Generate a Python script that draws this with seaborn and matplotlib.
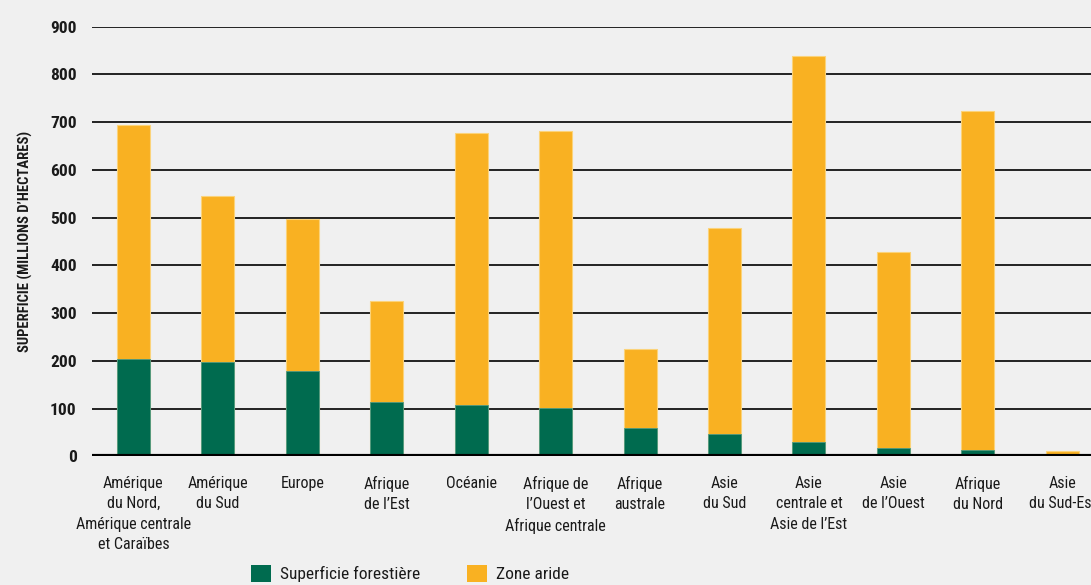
import numpy as np
import pandas as pd
import matplotlib
matplotlib.use("Agg")
import matplotlib.pyplot as plt
from matplotlib.patches import Patch
import seaborn as sns

regions = ["Amérique\ndu Nord,\nAmérique centrale\net Caraïbes", "Amérique\ndu Sud", "Europe",
           "Afrique\nde l’Est", "Océanie", "Afrique de\nl’Ouest et\nAfrique centrale",
           "Afrique\naustrale", "Asie\ndu Sud", "Asie\ncentrale et\nAsie de l’Est",
           "Asie\nde l’Ouest", "Afrique\ndu Nord", "Asie\ndu Sud-Est"]
zone_aride = [693, 546, 497, 326, 678, 681, 224, 478, 838, 427, 723, 11]
foret = [204, 198, 179, 114, 108, 101, 60, 47, 31, 18, 14, 6]
yticks = [0, 100, 200, 300, 400, 500, 600, 700, 800, 900]

GREEN = "#006b4f"
ORANGE = "#f9b122"
BG = "#f0f0f0"
INK = "#1a1a1a"

df = pd.DataFrame({"region": regions, "aride": zone_aride, "foret": foret})

sns.set_theme(style="white")
plt.rcParams["font.family"] = ["Liberation Sans Narrow", "DejaVu Sans Condensed", "Roboto Condensed",
                               "Open Sans Condensed", "Noto Sans Condensed", "DejaVu Sans"]
plt.rcParams["font.stretch"] = "condensed"
plt.rcParams["text.color"] = INK

fig = plt.figure(figsize=(10.91, 5.85), dpi=100, facecolor=BG)
ax = fig.add_axes([0.0843, 0.2197, 1 - 0.0843, 0.735])
ax.set_facecolor(BG)

# grid lines under the bars
for v in yticks[1:]:
    ax.axhline(v, color="#222222", lw=1.4, zorder=0)

sns.barplot(data=df, x="region", y="aride", color=ORANGE, width=0.39, saturation=1,
            edgecolor="#fbd37a", linewidth=0.8, ax=ax, zorder=2)
sns.barplot(data=df, x="region", y="foret", color=GREEN, width=0.39, saturation=1,
            edgecolor="#4f9a82", linewidth=0.6, ax=ax, zorder=3)

ax.axhline(0, color="black", lw=3, zorder=4)
ax.set_ylim(0, 900)
ax.set_xlim(-0.49, 11.34)
ax.set_yticks(yticks)
ax.set_yticklabels([str(v) for v in yticks], fontsize=12.5, fontweight="bold", color=INK)
ax.tick_params(axis="y", length=0, pad=11)
ax.tick_params(axis="x", length=0, pad=14)
ax.set_xticks(range(len(regions)))
ax.set_xticklabels(regions, fontsize=11.5, linespacing=1.45, va="top", color=INK)
for s in ax.spines.values():
    s.set_visible(False)
ax.set_xlabel("")
ax.set_ylabel("SUPERFICIE (MILLIONS D’HECTARES)", fontsize=10.5, fontweight="bold", labelpad=12,
              color=INK)

handles = [Patch(facecolor=GREEN, edgecolor="none", label="Superficie forestière"),
           Patch(facecolor=ORANGE, edgecolor="none", label="Zone aride")]
fig.legend(handles=handles, loc="center", bbox_to_anchor=(0.376, 0.02), ncol=2, frameon=False,
           fontsize=12.5, handlelength=1.15, handleheight=1.15, handletextpad=0.5,
           columnspacing=2.7, borderpad=0, borderaxespad=0)

fig.savefig("out.png", dpi=100, facecolor=BG)
